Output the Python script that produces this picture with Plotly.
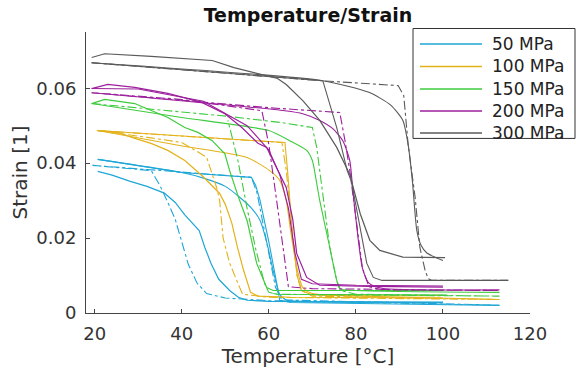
import plotly.graph_objects as go

# ---------------- data ----------------
stress_labels = ["50 MPa", "100 MPa", "150 MPa", "200 MPa", "300 MPa"]
colors = ["#1ea6d6", "#e3b21a", "#3ecb3e", "#9c1f9c", "#5a5a5a"]

# 50 MPa
T50_exp = [20.7, 24, 28, 32, 36, 38.5, 40.7, 42.5, 44, 45.3, 46.7, 48.5, 51, 53, 55, 60, 80, 100]
S50_exp = [0.0378, 0.0368, 0.0352, 0.0338, 0.032, 0.0295, 0.0262, 0.0238, 0.022, 0.0175, 0.0133, 0.009, 0.006, 0.0042, 0.0034, 0.0031, 0.003, 0.0029]
T50_mod = [20.7, 40, 56, 57, 58, 60, 62, 62.5, 65, 113]
S50_mod = [0.041, 0.0375, 0.0362, 0.034, 0.030, 0.019, 0.0068, 0.0034, 0.0028, 0.002]
T50_smo = [20.7, 40, 45, 50, 53.3, 56, 58, 59.5, 61, 62.5, 64, 70, 100]
S50_smo = [0.041, 0.0375, 0.036, 0.0338, 0.0309, 0.028, 0.0247, 0.019, 0.0113, 0.005, 0.0035, 0.003, 0.0028]
T50_dd = [19.5, 45, 56, 57.3, 61.5, 63, 113, 60, 50, 45.7, 43.5, 41.5, 40, 38.5, 37, 35, 33, 19.5]
S50_dd = [0.0394, 0.0372, 0.0362, 0.032, 0.007, 0.0035, 0.0021, 0.0033, 0.004, 0.0052, 0.008, 0.013, 0.019, 0.025, 0.029, 0.034, 0.038, 0.0394]

# 100 MPa
T100_exp = [20.7, 25.3, 29.2, 33.1, 36.8, 40.7, 44.8, 47, 48.7, 50, 51.5, 52.8, 54.2, 55.8, 57.5, 65, 100]
S100_exp = [0.0487, 0.0482, 0.0466, 0.0452, 0.0434, 0.0407, 0.0365, 0.034, 0.0319, 0.029, 0.024, 0.0175, 0.0114, 0.0055, 0.0045, 0.0042, 0.004]
T100_mod = [20.7, 63.7, 64.3, 65.5, 66.5, 67.5, 70, 113]
S100_mod = [0.0487, 0.0455, 0.038, 0.02, 0.01, 0.006, 0.0048, 0.0036]
T100_smo = [20.7, 39.5, 55, 60.2, 62.5, 64, 65, 66.4, 67.8, 70, 100]
S100_smo = [0.0487, 0.0447, 0.0415, 0.038, 0.0354, 0.030, 0.022, 0.0122, 0.0068, 0.0052, 0.0047]
T100_dd = [20.5, 37.7, 63, 64, 65.5, 66.5, 67.5, 70, 113, 60, 54, 53.3, 51, 49.5, 48.7, 48, 45.7, 40, 32.6, 20.5]
S100_dd = [0.0487, 0.0474, 0.0455, 0.038, 0.02, 0.01, 0.006, 0.0045, 0.0036, 0.0042, 0.005, 0.0068, 0.0133, 0.02, 0.030, 0.0335, 0.0416, 0.0455, 0.0468, 0.0487]

# 150 MPa
T150_exp = [19.3, 22.3, 29.2, 36.8, 40.7, 43.7, 47, 49.9, 51, 53, 55, 56.2, 57.2, 59.5, 61, 100]
S150_exp = [0.0559, 0.057, 0.0559, 0.0522, 0.0495, 0.0482, 0.046, 0.0425, 0.038, 0.031, 0.0247, 0.018, 0.0133, 0.0068, 0.006, 0.006]
T150_mod = [101, 80, 62, 61]
S150_mod = [0.0048, 0.0049, 0.005, 0.0052]
T150_smo = [19.3, 40, 60, 64.8, 68.7, 70, 71, 71.7, 74, 75.6, 76.3, 80, 113]
S150_smo = [0.0559, 0.0522, 0.0487, 0.046, 0.0434, 0.0407, 0.0346, 0.030, 0.0175, 0.0087, 0.0065, 0.006, 0.0055]
T150_dd = [19.3, 50.6, 63, 70, 71, 71.7, 72.5, 74, 75.6, 76.5, 80, 113, 62, 60, 59, 57, 55, 52.9, 50.6]
S150_dd = [0.0559, 0.0525, 0.0508, 0.0495, 0.0442, 0.038, 0.030, 0.0175, 0.0087, 0.006, 0.005, 0.0045, 0.005, 0.0055, 0.008, 0.017, 0.028, 0.0407, 0.0514]

# 200 MPa
T200_exp = [19.3, 23, 29.2, 36.8, 44.6, 49.9, 53.8, 57.5, 59.5, 61.8, 64, 65.5, 66.4, 68.7, 71.7, 83, 100]
S200_exp = [0.0599, 0.061, 0.0602, 0.0586, 0.0562, 0.0532, 0.0495, 0.0453, 0.0442, 0.0389, 0.0335, 0.025, 0.0159, 0.0095, 0.0074, 0.0071, 0.0069]
T200_mod = [100, 80, 70, 67.5, 66, 64.5, 62.5, 60, 55, 45, 30, 19.3]
S200_mod = [0.0072, 0.0074, 0.0078, 0.009, 0.016, 0.028, 0.037, 0.0435, 0.05, 0.0565, 0.0598, 0.0599]
T200_smo = [19.3, 63.7, 67.8, 71.7, 74.7, 77, 78.6, 79.3, 80.5, 81.5, 83, 86, 113]
S200_smo = [0.0588, 0.054, 0.0532, 0.0514, 0.0492, 0.046, 0.0407, 0.0327, 0.02, 0.012, 0.008, 0.0066, 0.0062]
T200_dd = [19.3, 60, 76.3, 77.5, 78.6, 80, 81.5, 83, 86, 113, 70, 64.5, 63.5, 61.8, 60, 58.4, 40, 19.3]
S200_dd = [0.0588, 0.0548, 0.0535, 0.046, 0.038, 0.025, 0.012, 0.007, 0.0062, 0.006, 0.0065, 0.007, 0.015, 0.030, 0.045, 0.054, 0.057, 0.0588]

# 300 MPa
T300_exp = [19.3, 22.3, 33, 47, 52, 57.5, 62, 64, 67.8, 71.7, 75.6, 78.6, 81, 83.2, 85.5, 90.8, 100.5]
S300_exp = [0.0682, 0.0692, 0.0685, 0.0674, 0.0655, 0.0639, 0.0626, 0.061, 0.0567, 0.0514, 0.0442, 0.037, 0.0265, 0.0194, 0.0167, 0.0149, 0.0148]
T300_mod = [19.3, 72.4, 75.6, 78, 79, 81, 82.5, 84, 86, 115]
S300_mod = [0.0668, 0.062, 0.0495, 0.038, 0.035, 0.022, 0.0133, 0.0095, 0.0087, 0.0087]
T300_smo = [19.3, 72.4, 83, 88, 90.8, 92, 93, 94, 95, 96.3, 100]
S300_smo = [0.0668, 0.062, 0.0589, 0.0555, 0.0514, 0.045, 0.035, 0.022, 0.018, 0.016, 0.014]
T300_dd = [19.3, 72, 89.7, 91, 92, 93.6, 94.7, 95.9, 96.6, 97.5, 115]
S300_dd = [0.0668, 0.062, 0.0607, 0.058, 0.045, 0.031, 0.0175, 0.0114, 0.0092, 0.0087, 0.0087]

x_ticks = [20, 40, 60, 80, 100, 120]
y_ticks = [0, 0.02, 0.04, 0.06]
y_ticktext = ["0", "0.02", "0.04", "0.06"]

series = [
    (T50_exp, S50_exp, T50_mod, S50_mod, T50_smo, S50_smo, T50_dd, S50_dd),
    (T100_exp, S100_exp, T100_mod, S100_mod, T100_smo, S100_smo, T100_dd, S100_dd),
    (T150_exp, S150_exp, T150_mod, S150_mod, T150_smo, S150_smo, T150_dd, S150_dd),
    (T200_exp, S200_exp, T200_mod, S200_mod, T200_smo, S200_smo, T200_dd, S200_dd),
    (T300_exp, S300_exp, T300_mod, S300_mod, T300_smo, S300_smo, T300_dd, S300_dd),
]

FONT = "DejaVu Sans, Liberation Sans, Arial, sans-serif"

fig = go.Figure()
for i, (te, se, tm, sm, ts, ss, td, sd) in enumerate(series):
    c = colors[i]
    name = stress_labels[i]
    fig.add_trace(go.Scatter(x=te, y=se, mode="lines", name=name, legendgroup=name,
                             line=dict(color=c, width=1.2), showlegend=False))
    fig.add_trace(go.Scatter(x=tm, y=sm, mode="lines", legendgroup=name, showlegend=False,
                             line=dict(color=c, width=1.1)))
    fig.add_trace(go.Scatter(x=ts, y=ss, mode="lines", legendgroup=name, showlegend=False,
                             line=dict(color=c, width=1.1, shape="spline", smoothing=0.6)))
    fig.add_trace(go.Scatter(x=td, y=sd, mode="lines", legendgroup=name, showlegend=False,
                             line=dict(color=c, width=1.1, dash="dashdot")))

# ---- legend box (MATLAB style with long sample lines) ----
L, R, T, B = 86.0, 530.0, 31.5, 312.7
W, H = R - L, B - T
def px(x):
    return (x - L) / W
def py(y):
    return (B - y) / H

shapes = [dict(type="rect", xref="paper", yref="paper", x0=px(413), x1=px(575), y0=py(28), y1=py(138),
               line=dict(color="#333333", width=1), fillcolor="white", layer="above")]
annotations = []
row_y = [43.5, 66, 88.5, 110.5, 132.5]
for i, name in enumerate(stress_labels):
    shapes.append(dict(type="line", xref="paper", yref="paper", x0=px(420), x1=px(482),
                       y0=py(row_y[i]), y1=py(row_y[i]), line=dict(color=colors[i], width=1.4),
                       layer="above"))
    annotations.append(dict(text=name, xref="paper", yref="paper", x=px(490), y=py(row_y[i]),
                            xanchor="left", yanchor="middle", showarrow=False,
                            font=dict(family=FONT, size=17, color="#222222")))

fig.update_layout(
    width=576, height=372,
    margin=dict(l=L, r=576 - R, t=T, b=372 - B, autoexpand=False),
    paper_bgcolor="white", plot_bgcolor="white",
    font=dict(family=FONT, size=18, color="#333333"),
    title=dict(text="<b>Temperature/Strain</b>", x=308 / 576, xanchor="center",
               y=1 - 15 / 372, yanchor="middle",
               font=dict(family=FONT, size=19, color="#111111")),
    showlegend=False,
    shapes=shapes,
    annotations=annotations,
    xaxis=dict(range=[18, 120], tickvals=x_ticks, ticks="inside", ticklen=4, tickcolor="#444444",
               showline=True, linecolor="#444444", linewidth=1, showgrid=False, zeroline=False,
               ticklabelstandoff=4, automargin=False,
               tickfont=dict(family=FONT, size=18, color="#333333"),
               title=dict(text="Temperature [°C]", standoff=6,
                          font=dict(family=FONT, size=20, color="#333333"))),
    yaxis=dict(range=[0, 0.075], tickvals=y_ticks, ticktext=y_ticktext,
               ticks="inside", ticklen=4, tickcolor="#444444",
               showline=True, linecolor="#444444", linewidth=1, showgrid=False, zeroline=False,
               ticklabelstandoff=5, automargin=False,
               tickfont=dict(family=FONT, size=18, color="#333333"),
               title=dict(text="Strain [1]", standoff=3,
                          font=dict(family=FONT, size=20, color="#333333"))),
)

fig.write_html("out.html")
